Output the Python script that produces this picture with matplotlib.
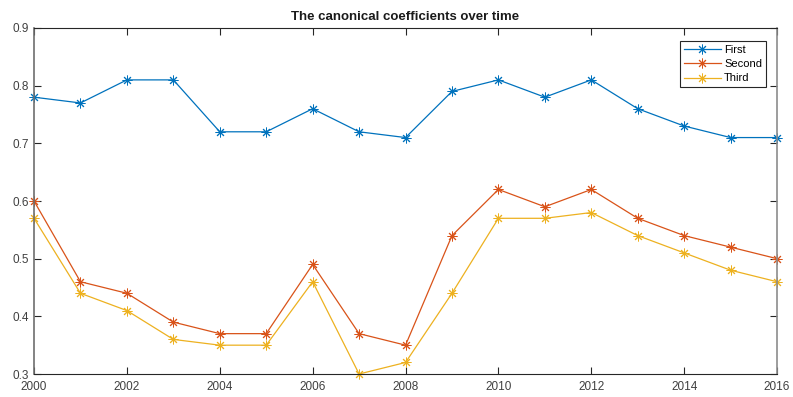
import matplotlib.pyplot as plt

years = list(range(2000, 2017))
first = [0.78, 0.77, 0.81, 0.81, 0.72, 0.72, 0.76, 0.72, 0.71, 0.79, 0.81, 0.78, 0.81, 0.76, 0.73, 0.71, 0.71]
second = [0.60, 0.46, 0.44, 0.39, 0.37, 0.37, 0.49, 0.37, 0.35, 0.54, 0.62, 0.59, 0.62, 0.57, 0.54, 0.52, 0.50]
third = [0.57, 0.44, 0.41, 0.36, 0.35, 0.35, 0.46, 0.30, 0.32, 0.44, 0.57, 0.57, 0.58, 0.54, 0.51, 0.48, 0.46]
names = ['First', 'Second', 'Third']
colors = ['#0072BD', '#D95319', '#EDB120']

plt.rcParams['font.family'] = ['Liberation Sans', 'DejaVu Sans']

fig = plt.figure(figsize=(7.93, 3.97), dpi=100)
ax = fig.add_axes([0.0429, 0.0579, 0.937, 0.8716])

# asterisk markers like '+' and 'x' overlaid
for series, name, c in zip([first, second, third], names, colors):
    ax.plot(years, series, color=c, marker=(8, 2, 0), markersize=7, linewidth=0.9,
            markeredgewidth=0.7, label=name, clip_on=False)

ax.set_xlim(2000, 2016)
ax.set_ylim(0.3, 0.9)
ax.set_xticks(range(2000, 2017, 2))
ax.set_yticks([0.3, 0.4, 0.5, 0.6, 0.7, 0.8, 0.9])
ax.set_yticklabels(['0.3', '0.4', '0.5', '0.6', '0.7', '0.8', '0.9'])
ax.tick_params(direction='in', length=5, width=0.8, labelsize=8.5, colors='#262626',
               labelcolor='#404040', top=True, right=True)
ax.tick_params(axis='x', pad=5)
ax.tick_params(axis='y', pad=3.5)
for side in ['bottom', 'top']:
    ax.spines[side].set_color('#262626')
    ax.spines[side].set_linewidth(0.8)
ax.spines['right'].set_color('#8c8c8c')
ax.spines['right'].set_linewidth(1.2)
ax.spines['left'].set_color('#6e6e6e')
ax.spines['left'].set_linewidth(1.2)

ax.set_title('The canonical coefficients over time', fontsize=9.5, fontweight='bold',
             color='#1a1a1a', pad=6)

leg = ax.legend(loc='upper right', fontsize=8, frameon=True, fancybox=False,
                edgecolor='#262626', framealpha=1, borderpad=0.35, labelspacing=0.38,
                handlelength=3.3, handletextpad=0.3, borderaxespad=0,
                bbox_to_anchor=(0.985, 0.962))
leg.get_frame().set_linewidth(0.8)

fig.savefig('out.png', dpi=100, facecolor='white')
